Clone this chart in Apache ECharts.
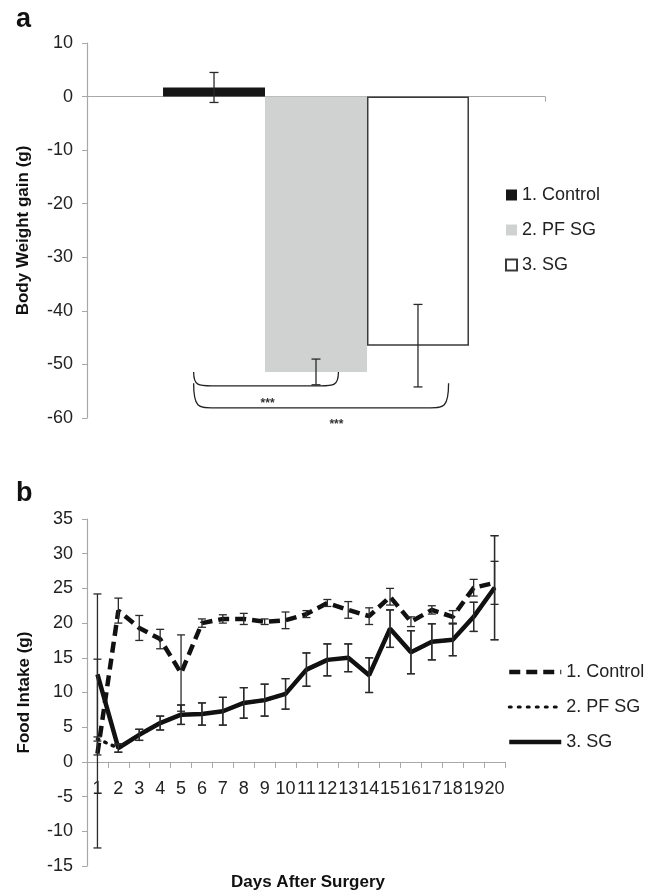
<!DOCTYPE html>
<html>
<head>
<meta charset="utf-8">
<script src="https://cdn.jsdelivr.net/npm/echarts@6/dist/echarts.min.js"></script>
<style>html,body{margin:0;padding:0;background:#fff}#c{width:660px;height:892px}</style>
</head>
<body>
<div id="c"></div>
<script>
// ---------- Panel a data ----------
const groups = ['1. Control', '2. PF SG', '3. SG'];
const weightGain = [1.7, -51.4, -46.5];
const weightErr = [2.8, 2.4, 7.7];
const weightTicks = { min: -60, max: 10, interval: 10 };

// ---------- Panel b data ----------
const days = ['1','2','3','4','5','6','7','8','9','10','11','12','13','14','15','16','17','18','19','20'];
const controlIntake = [1.2, 21.8, 19.3, 17.7, 12.8, 20.0, 20.6, 20.6, 20.2, 20.4, 21.3, 22.9, 21.9, 21.0, 23.8, 20.2, 21.9, 20.9, 25.1, 25.8];
const controlErr    = [13.6, 1.8, 1.8, 1.4, 5.5, 0.6, 0.6, 0.8, 0.4, 1.2, 0.5, 0.5, 1.2, 1.2, 1.2, 0.7, 0.6, 0.9, 1.2, 3.1];
const pfsgIntake    = [3.3, 2.0, 3.9, 5.6, 6.8, 6.9, 7.3, 8.5, 8.9, 9.8, 13.3, 14.7, 15.0, 12.5, 19.2, 15.8, 17.3, 17.6, 20.9, 25.1];
const pfsgErr       = [0.3, 0.6, 0.8, 1.0, 1.4, 1.6, 2.0, 2.2, 2.3, 2.2, 2.4, 2.3, 2.0, 2.5, 2.7, 3.1, 2.6, 2.3, 2.1, 7.5];
const sgIntake      = [12.6, 2.0, 3.9, 5.6, 6.8, 6.9, 7.3, 8.5, 8.9, 9.8, 13.3, 14.7, 15.0, 12.5, 19.2, 15.8, 17.3, 17.6, 20.9, 25.1];
const sgErr         = [11.6, 0.6, 0.8, 1.0, 1.4, 1.6, 2.0, 2.2, 2.3, 2.2, 2.4, 2.3, 2.0, 2.5, 2.7, 3.1, 2.6, 2.3, 2.1, 7.5];
const intakeTicks = { min: -15, max: 35, interval: 5 };

// significance brackets (annotation): x in bar-width units from group centre, y in data units
const brackets = [
  { x1: -1.2, x2: 0.22, top: -51.4, bottom: -54.0, label: '***', lx: -0.475, ly: -57.3 },
  { x1: -1.2, x2: 1.30, top: -53.5, bottom: -58.1, label: '***', lx: 0.2, ly: -61.3 }
];

const FONT = "'Liberation Sans', Arial, Helvetica, sans-serif";
const AXIS_GRAY = '#a8a8a8';
const TXT = '#222';
const CAT_GAP = 0.332;
const GRID_B = { left: 87, top: 519, width: 418, height: 347 };
// place the day axis on the zero line of the intake scale
const zeroOffsetB = -GRID_B.height * (0 - intakeTicks.min) / (intakeTicks.max - intakeTicks.min);

const chart = echarts.init(document.getElementById('c'), null, { renderer: 'canvas' });

function errorBarRender(offsetFn, capW) {
  return function (params, api) {
    const v = api.value(1), e = api.value(2);
    const c = api.coord([api.value(0), v]);
    const x = c[0] + offsetFn(api);
    const yt = api.coord([api.value(0), v + e])[1];
    const yb = api.coord([api.value(0), v - e])[1];
    const st = { stroke: '#2a2a2a', lineWidth: 1.3 };
    return {
      type: 'group',
      children: [
        { type: 'line', shape: { x1: x, y1: yt, x2: x, y2: yb }, style: st },
        { type: 'line', shape: { x1: x - capW / 2, y1: yt, x2: x + capW / 2, y2: yt }, style: st },
        { type: 'line', shape: { x1: x - capW / 2, y1: yb, x2: x + capW / 2, y2: yb }, style: st }
      ]
    };
  };
}

function barW(api) {
  const band = api.size([1, 0])[0];
  return band * (1 - CAT_GAP) / 3;
}

const option = {
  animation: false,
  textStyle: { fontFamily: FONT },
  graphic: [
    { type: 'text', left: 16, top: 6, style: { text: 'a', font: "bold 27px " + FONT, fill: '#111' } },
    { type: 'text', left: 16, top: 480, style: { text: 'b', font: "bold 27px " + FONT, fill: '#111' } }
  ],
  legend: [
    {
      data: groups.map(g => ({ name: g, icon: 'rect' })),
      orient: 'vertical', left: 505, top: 186, itemWidth: 11, itemHeight: 11, itemGap: 17,
      padding: 0, textStyle: { fontSize: 18, color: TXT, fontFamily: FONT },
      selectedMode: false
    },
    {
      data: [
        { name: '1. Control ', lineStyle: { width: 4.5, type: [11, 6] } },
        { name: '2. PF SG ', lineStyle: { width: 3, type: [2, 7], cap: 'round' } },
        { name: '3. SG ', lineStyle: { width: 4.5 } }
      ],
      orient: 'vertical', left: 507, top: 663, itemWidth: 52, itemHeight: 14, itemGap: 17,
      padding: 0, textStyle: { fontSize: 18, color: TXT, fontFamily: FONT },
      itemStyle: { opacity: 0 },
      selectedMode: false
    }
  ],
  grid: [
    { left: 87, top: 43, width: 458, height: 375, outerBoundsMode: 'none', containLabel: false },
    { left: GRID_B.left, top: GRID_B.top, width: GRID_B.width, height: GRID_B.height, outerBoundsMode: 'none', containLabel: false }
  ],
  xAxis: [
    {
      gridIndex: 0, type: 'category', data: ['Body weight'],
      axisLine: { onZero: true, lineStyle: { color: AXIS_GRAY, width: 1.2 } },
      axisTick: { show: true, length: 5, lineStyle: { color: AXIS_GRAY } },
      axisLabel: { show: false }, splitLine: { show: false }
    },
    {
      gridIndex: 1, type: 'category', data: days, position: 'bottom', offset: zeroOffsetB,
      name: 'Days After Surgery', nameLocation: 'middle', nameGap: 112,
      nameTextStyle: { fontSize: 17, fontWeight: 'bold', color: '#111', fontFamily: FONT, padding: [0, 0, 0, 24] },
      axisLine: { onZero: false, lineStyle: { color: AXIS_GRAY, width: 1.2 } },
      axisTick: { show: true, length: 6, lineStyle: { color: AXIS_GRAY } },
      axisLabel: { interval: 0, fontSize: 18, color: TXT, margin: 18, hideOverlap: false, fontFamily: FONT },
      splitLine: { show: false }
    }
  ],
  yAxis: [
    {
      gridIndex: 0, type: 'value', min: weightTicks.min, max: weightTicks.max, interval: weightTicks.interval,
      name: 'Body Weight gain (g)', nameLocation: 'middle', nameGap: 55,
      nameTextStyle: { fontSize: 17, fontWeight: 'bold', color: '#111', fontFamily: FONT },
      axisLine: { show: true, lineStyle: { color: AXIS_GRAY, width: 1.2 } },
      axisTick: { show: true, length: 5, lineStyle: { color: AXIS_GRAY } },
      axisLabel: { fontSize: 18, color: TXT, margin: 14, fontFamily: FONT },
      splitLine: { show: false }
    },
    {
      gridIndex: 1, type: 'value', min: intakeTicks.min, max: intakeTicks.max, interval: intakeTicks.interval,
      name: 'Food Intake (g)', nameLocation: 'middle', nameGap: 54,
      nameTextStyle: { fontSize: 17, fontWeight: 'bold', color: '#111', fontFamily: FONT },
      axisLine: { show: true, lineStyle: { color: AXIS_GRAY, width: 1.2 } },
      axisTick: { show: true, length: 5, lineStyle: { color: AXIS_GRAY } },
      axisLabel: { fontSize: 18, color: TXT, margin: 14, fontFamily: FONT },
      splitLine: { show: false }
    }
  ],
  series: [
    {
      name: groups[0], type: 'bar', xAxisIndex: 0, yAxisIndex: 0, data: [weightGain[0]],
      barGap: '0%', barCategoryGap: (CAT_GAP * 100) + '%',
      itemStyle: { color: '#161616' }
    },
    {
      name: groups[1], type: 'bar', xAxisIndex: 0, yAxisIndex: 0, data: [weightGain[1]],
      barGap: '0%', barCategoryGap: (CAT_GAP * 100) + '%',
      itemStyle: { color: '#d0d2d2' }
    },
    {
      name: groups[2], type: 'bar', xAxisIndex: 0, yAxisIndex: 0, data: [weightGain[2]],
      barGap: '0%', barCategoryGap: (CAT_GAP * 100) + '%',
      itemStyle: { color: '#ffffff', borderColor: '#3a3a3a', borderWidth: 1.5 }
    },
    {
      type: 'custom', xAxisIndex: 0, yAxisIndex: 0, z: 5, silent: true, clip: false,
      data: groups.map((g, i) => [0, weightGain[i], weightErr[i], i]),
      renderItem: errorBarRender(api => (api.value(3) - 1) * barW(api), 9)
    },
    {
      type: 'custom', xAxisIndex: 0, yAxisIndex: 0, z: 5, silent: true, clip: false,
      data: brackets.map((b, i) => [0, i]),
      renderItem: function (params, api) {
        const b = brackets[api.value(1)];
        const w = barW(api);
        const cx = api.coord([0, 0])[0];
        const xa = cx + b.x1 * w, xb = cx + b.x2 * w;
        const yt = api.coord([0, b.top])[1], yb = api.coord([0, b.bottom])[1];
        const r = Math.min(18, (xb - xa) / 4);
        const path = 'M' + xa + ',' + yt +
          ' C' + xa + ',' + (yb) + ' ' + (xa + r * 0.3) + ',' + yb + ' ' + (xa + r) + ',' + yb +
          ' L' + (xb - r) + ',' + yb +
          ' C' + (xb - r * 0.3) + ',' + yb + ' ' + xb + ',' + yb + ' ' + xb + ',' + yt;
        const lp = api.coord([0, b.ly]);
        return {
          type: 'group',
          children: [
            { type: 'path', shape: { pathData: path }, style: { stroke: '#222', lineWidth: 1.3, fill: null } },
            { type: 'text', x: cx + b.lx * w, y: lp[1],
              style: { text: b.label, font: 'bold 12px ' + FONT, fill: '#333', align: 'center', verticalAlign: 'middle' } }
          ]
        };
      }
    },
    {
      name: '1. Control ', type: 'line', xAxisIndex: 1, yAxisIndex: 1, data: controlIntake,
      symbol: 'none', z: 3,
      lineStyle: { color: '#111', width: 4.5, type: [11, 6] },
      itemStyle: { color: '#111' }
    },
    {
      name: '2. PF SG ', type: 'line', xAxisIndex: 1, yAxisIndex: 1, data: pfsgIntake,
      symbol: 'none', z: 3,
      lineStyle: { color: '#111', width: 3.5, type: [1.5, 6.5], cap: 'round' },
      itemStyle: { color: '#111' }
    },
    {
      name: '3. SG ', type: 'line', xAxisIndex: 1, yAxisIndex: 1, data: sgIntake,
      symbol: 'none', z: 4,
      lineStyle: { color: '#111', width: 4.5 },
      itemStyle: { color: '#111' }
    },
    {
      type: 'custom', xAxisIndex: 1, yAxisIndex: 1, z: 6, silent: true, clip: false,
      data: days.map((d, i) => [i, controlIntake[i], controlErr[i]]),
      renderItem: errorBarRender(() => 0, 8)
    },
    {
      type: 'custom', xAxisIndex: 1, yAxisIndex: 1, z: 6, silent: true, clip: false,
      data: days.map((d, i) => [i, pfsgIntake[i], pfsgErr[i]]),
      renderItem: errorBarRender(() => 0, 8)
    },
    {
      type: 'custom', xAxisIndex: 1, yAxisIndex: 1, z: 6, silent: true, clip: false,
      data: days.map((d, i) => [i, sgIntake[i], sgErr[i]]),
      renderItem: errorBarRender(() => 0, 8)
    }
  ]
};
chart.setOption(option);
</script>
</body>
</html>
